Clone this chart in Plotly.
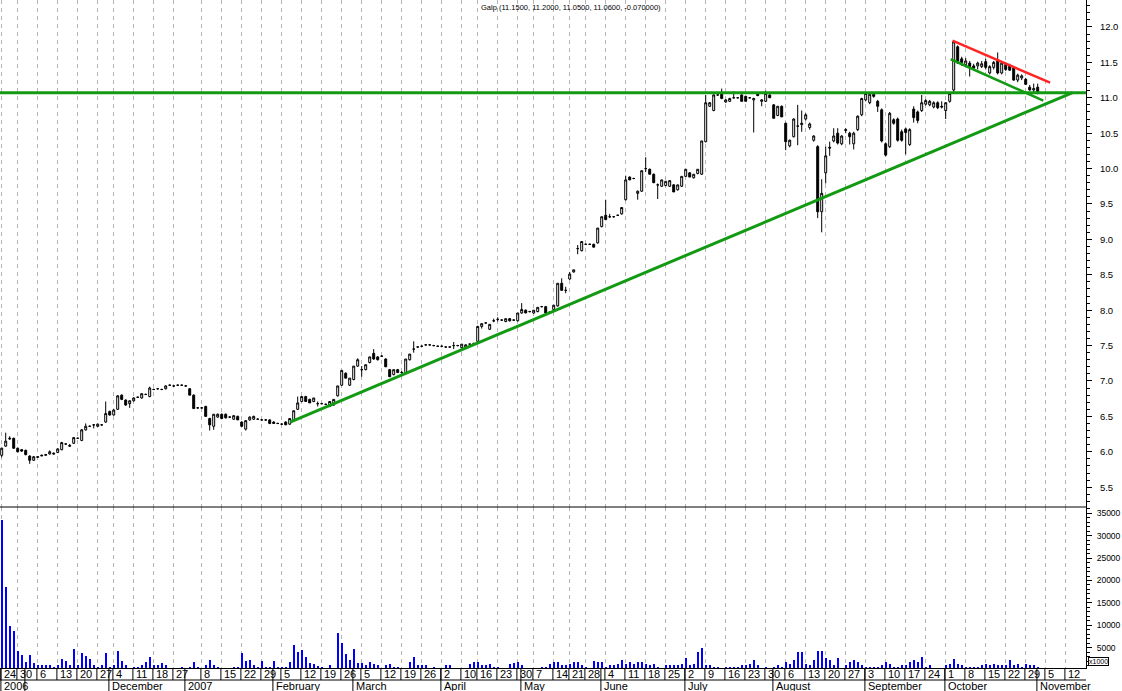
import plotly.graph_objects as go

# ---------------- data ----------------
title_text = "Galp (11.1500, 11.2000, 11.0500, 11.0600, -0.070000)"

open_ = [
    5.95, 6.08, 6.18, 6.19, 6.05, 6.03, 6.02, 5.94, 5.88, 5.92,
    5.94, 5.95, 5.97, 5.98, 5.99, 6.03, 6.11, 6.09, 6.12, 6.19,
    6.16, 6.31, 6.36, 6.38, 6.36, 6.38, 6.42, 6.57, 6.52, 6.60,
    6.80, 6.73, 6.68, 6.72, 6.77, 6.76, 6.81, 6.78, 6.88, 6.89,
    6.88, 6.89, 6.94, 6.93, 6.94, 6.94, 6.93, 6.89, 6.80, 6.62,
    6.62, 6.64, 6.47, 6.36, 6.49, 6.53, 6.53, 6.49, 6.46, 6.50,
    6.42, 6.32, 6.45, 6.46, 6.46, 6.45, 6.45, 6.45, 6.42, 6.40,
    6.39, 6.42, 6.39, 6.45, 6.60, 6.71, 6.78, 6.74, 6.71, 6.68,
    6.68, 6.67, 6.64, 6.66, 6.79, 6.94, 7.11, 6.94, 7.02, 7.21,
    7.16, 7.16, 7.26, 7.39, 7.34, 7.35, 7.31, 7.16, 7.09, 7.16,
    7.12, 7.12, 7.30, 7.45, 7.48, 7.49, 7.51, 7.51, 7.50, 7.49,
    7.49, 7.48, 7.48, 7.50, 7.50, 7.47, 7.48, 7.52, 7.53, 7.56,
    7.77, 7.82, 7.73, 7.85, 7.87, 7.86, 7.84, 7.88, 7.86, 7.85,
    7.96, 8.00, 7.98, 7.96, 7.98, 8.05, 8.05, 7.97, 8.01, 8.06,
    8.38, 8.28, 8.44, 8.54, 8.87, 8.84, 8.93, 8.93, 8.93, 8.95,
    9.18, 9.34, 9.32, 9.32, 9.34, 9.36, 9.56, 9.88, 9.86, 9.65,
    9.68, 10.00, 9.99, 9.92, 9.77, 9.75, 9.76, 9.75, 9.77, 9.70,
    9.75, 9.89, 9.94, 9.87, 9.93, 9.92, 10.38, 10.88, 10.82, 11.04,
    11.06, 10.94, 10.95, 11.00, 11.00, 11.04, 11.02, 11.00, 10.97, 11.06,
    10.95, 10.95, 11.04, 10.90, 10.75, 10.88, 10.64, 10.32, 10.45, 10.60,
    10.62, 10.70, 10.58, 10.40, 10.31, 9.39, 9.94, 10.30, 10.39, 10.50,
    10.35, 10.55, 10.50, 10.35, 10.55, 10.76, 10.97, 10.93, 11.05, 10.95,
    10.83, 10.35, 10.31, 10.69, 10.70, 10.52, 10.56, 10.34, 10.84, 10.80,
    10.82, 10.91, 10.90, 10.87, 10.93, 10.88, 10.82, 10.95, 11.11, 11.72,
    11.55, 11.47, 11.49, 11.45, 11.45, 11.44, 11.51, 11.35, 11.43, 11.53,
    11.35, 11.47, 11.46, 11.42, 11.25, 11.28, 11.26, 11.15, 11.11, 11.15,
]
high = [
    6.06, 6.27, 6.22, 6.20, 6.06, 6.04, 6.03, 5.95, 5.94, 5.94,
    5.96, 5.97, 6.02, 5.99, 6.05, 6.14, 6.12, 6.11, 6.21, 6.20,
    6.32, 6.40, 6.37, 6.39, 6.40, 6.39, 6.71, 6.58, 6.60, 6.80,
    6.81, 6.74, 6.73, 6.77, 6.78, 6.83, 6.82, 6.92, 6.89, 6.90,
    6.89, 6.94, 6.95, 6.94, 6.95, 6.95, 6.94, 6.90, 6.81, 6.63,
    6.63, 6.65, 6.48, 6.53, 6.54, 6.54, 6.54, 6.50, 6.52, 6.51,
    6.43, 6.44, 6.50, 6.51, 6.47, 6.46, 6.46, 6.46, 6.43, 6.41,
    6.40, 6.43, 6.47, 6.58, 6.78, 6.78, 6.79, 6.75, 6.76, 6.71,
    6.69, 6.68, 6.71, 6.74, 6.93, 7.15, 7.12, 7.04, 7.21, 7.32,
    7.21, 7.23, 7.34, 7.45, 7.35, 7.36, 7.32, 7.17, 7.16, 7.17,
    7.14, 7.31, 7.38, 7.56, 7.49, 7.50, 7.52, 7.52, 7.51, 7.50,
    7.50, 7.49, 7.49, 7.55, 7.51, 7.52, 7.52, 7.53, 7.54, 7.78,
    7.81, 7.83, 7.80, 7.88, 7.90, 7.87, 7.88, 7.89, 7.87, 7.96,
    8.10, 8.01, 7.99, 8.00, 8.04, 8.06, 8.06, 7.98, 8.07, 8.38,
    8.45, 8.33, 8.54, 8.57, 8.92, 8.97, 8.94, 8.94, 8.94, 9.16,
    9.32, 9.56, 9.36, 9.33, 9.35, 9.45, 9.90, 9.89, 9.87, 9.69,
    9.97, 10.16, 10.00, 9.93, 9.79, 9.84, 9.82, 9.83, 9.78, 9.77,
    9.89, 9.99, 9.95, 9.92, 9.99, 10.39, 11.04, 10.94, 11.05, 11.05,
    11.13, 10.98, 11.00, 11.09, 11.01, 11.05, 11.03, 11.01, 11.00, 11.07,
    10.98, 11.10, 11.05, 10.91, 10.88, 10.89, 10.65, 10.41, 10.71, 10.90,
    10.82, 10.78, 10.65, 10.47, 10.33, 9.85, 10.31, 10.38, 10.57, 10.57,
    10.47, 10.57, 10.52, 10.52, 10.75, 11.00, 11.07, 11.06, 11.07, 10.97,
    10.85, 10.37, 10.80, 10.71, 10.72, 10.55, 10.58, 10.57, 10.88, 10.82,
    11.04, 10.98, 10.97, 10.95, 10.95, 10.95, 10.94, 11.07, 11.80, 11.74,
    11.58, 11.56, 11.52, 11.48, 11.51, 11.52, 11.55, 11.46, 11.52, 11.64,
    11.51, 11.50, 11.48, 11.44, 11.34, 11.33, 11.28, 11.18, 11.20, 11.20,
]
low = [
    5.92, 6.07, 6.17, 6.04, 5.99, 6.00, 5.95, 5.83, 5.87, 5.92,
    5.94, 5.95, 5.96, 5.96, 5.98, 6.02, 6.10, 6.07, 6.11, 6.18,
    6.15, 6.30, 6.35, 6.33, 6.35, 6.37, 6.41, 6.51, 6.51, 6.59,
    6.73, 6.65, 6.62, 6.71, 6.76, 6.75, 6.80, 6.77, 6.87, 6.88,
    6.87, 6.88, 6.93, 6.92, 6.93, 6.93, 6.92, 6.80, 6.61, 6.61,
    6.61, 6.50, 6.30, 6.31, 6.48, 6.47, 6.47, 6.48, 6.45, 6.45,
    6.35, 6.30, 6.44, 6.45, 6.45, 6.44, 6.44, 6.39, 6.40, 6.39,
    6.38, 6.38, 6.38, 6.44, 6.59, 6.70, 6.71, 6.69, 6.70, 6.64,
    6.67, 6.66, 6.63, 6.65, 6.78, 6.93, 7.04, 6.93, 7.01, 7.20,
    7.06, 7.15, 7.25, 7.30, 7.29, 7.34, 7.20, 7.06, 7.08, 7.11,
    7.10, 7.11, 7.29, 7.40, 7.47, 7.48, 7.50, 7.50, 7.49, 7.48,
    7.48, 7.47, 7.47, 7.45, 7.49, 7.46, 7.47, 7.51, 7.52, 7.55,
    7.74, 7.81, 7.72, 7.83, 7.84, 7.85, 7.83, 7.84, 7.85, 7.84,
    7.95, 7.96, 7.97, 7.95, 7.97, 8.04, 7.96, 7.96, 8.00, 8.05,
    8.28, 8.24, 8.43, 8.53, 8.79, 8.83, 8.92, 8.92, 8.89, 8.94,
    9.17, 9.27, 9.30, 9.31, 9.33, 9.35, 9.55, 9.84, 9.85, 9.56,
    9.67, 9.95, 9.92, 9.80, 9.57, 9.74, 9.75, 9.74, 9.67, 9.69,
    9.74, 9.88, 9.88, 9.86, 9.92, 9.91, 10.37, 10.87, 10.81, 11.03,
    10.98, 10.93, 10.94, 10.99, 10.99, 10.95, 10.95, 10.99, 10.51, 11.03,
    10.88, 10.94, 11.00, 10.71, 10.74, 10.73, 10.26, 10.30, 10.44, 10.33,
    10.52, 10.68, 10.55, 10.38, 9.30, 9.10, 9.79, 10.18, 10.37, 10.34,
    10.33, 10.50, 10.34, 10.27, 10.53, 10.74, 10.95, 10.91, 11.00, 10.80,
    10.37, 10.17, 10.29, 10.62, 10.38, 10.38, 10.20, 10.32, 10.65, 10.64,
    10.80, 10.89, 10.88, 10.85, 10.84, 10.85, 10.70, 10.93, 11.08, 11.48,
    11.45, 11.45, 11.30, 11.40, 11.40, 11.42, 11.40, 11.33, 11.40, 11.33,
    11.33, 11.38, 11.38, 11.24, 11.22, 11.25, 11.18, 11.10, 11.08, 11.05,
]
close = [
    6.05, 6.15, 6.19, 6.05, 6.00, 6.01, 5.96, 5.88, 5.93, 5.93,
    5.95, 5.96, 6.00, 5.97, 6.04, 6.13, 6.11, 6.08, 6.20, 6.19,
    6.31, 6.36, 6.36, 6.38, 6.39, 6.38, 6.54, 6.52, 6.59, 6.79,
    6.74, 6.66, 6.72, 6.76, 6.77, 6.82, 6.81, 6.90, 6.88, 6.89,
    6.88, 6.93, 6.94, 6.93, 6.94, 6.94, 6.93, 6.80, 6.61, 6.62,
    6.62, 6.50, 6.38, 6.53, 6.53, 6.47, 6.48, 6.49, 6.51, 6.45,
    6.36, 6.44, 6.49, 6.50, 6.46, 6.45, 6.45, 6.40, 6.40, 6.40,
    6.39, 6.38, 6.47, 6.58, 6.69, 6.78, 6.71, 6.69, 6.76, 6.68,
    6.68, 6.67, 6.71, 6.74, 6.93, 7.15, 7.04, 7.04, 7.21, 7.30,
    7.16, 7.23, 7.34, 7.31, 7.30, 7.35, 7.20, 7.06, 7.16, 7.12,
    7.12, 7.31, 7.38, 7.45, 7.48, 7.49, 7.51, 7.51, 7.50, 7.49,
    7.49, 7.48, 7.48, 7.50, 7.50, 7.52, 7.51, 7.52, 7.53, 7.77,
    7.81, 7.82, 7.80, 7.85, 7.87, 7.86, 7.88, 7.85, 7.86, 7.96,
    8.01, 7.96, 7.98, 8.00, 8.04, 8.05, 7.96, 7.97, 8.07, 8.38,
    8.28, 8.28, 8.51, 8.57, 8.87, 8.97, 8.93, 8.93, 8.89, 9.16,
    9.32, 9.28, 9.32, 9.32, 9.34, 9.45, 9.84, 9.84, 9.86, 9.68,
    9.97, 10.00, 9.92, 9.80, 9.77, 9.84, 9.82, 9.83, 9.67, 9.77,
    9.89, 9.99, 9.88, 9.92, 9.99, 10.39, 10.93, 10.93, 11.04, 11.04,
    10.99, 10.97, 10.99, 11.00, 11.00, 10.95, 10.95, 11.00, 10.99, 11.03,
    10.97, 11.06, 11.00, 10.71, 10.88, 10.73, 10.38, 10.40, 10.70, 10.60,
    10.64, 10.76, 10.63, 10.46, 9.39, 9.65, 10.18, 10.29, 10.46, 10.36,
    10.46, 10.54, 10.45, 10.50, 10.74, 10.99, 11.06, 11.05, 11.02, 10.88,
    10.39, 10.19, 10.78, 10.64, 10.40, 10.40, 10.51, 10.55, 10.72, 10.68,
    10.93, 10.96, 10.95, 10.93, 10.86, 10.87, 10.93, 11.06, 11.79, 11.49,
    11.50, 11.52, 11.44, 11.42, 11.49, 11.48, 11.43, 11.44, 11.50, 11.35,
    11.49, 11.40, 11.39, 11.25, 11.32, 11.31, 11.19, 11.11, 11.13, 11.06,
]
volume_k = [
    33400, 18450, 9780, 8650, 4170, 3270, 1700, 3270, 1480, 1030,
    1030, 1030, 1250, 800, 1250, 2370, 1930, 1250, 4620, 1030,
    3720, 3050, 2370, 1250, 800, 1030, 3720, 800, 1030, 4170,
    1930, 1030, 100, 800, 800, 1030, 1700, 2830, 1030, 1250,
    1480, 1030, 100, 400, 100, 800, 100, 800, 1700, 800,
    100, 1250, 2150, 1250, 600, 100, 100, 100, 800, 800,
    3720, 1930, 2150, 1250, 800, 1930, 600, 800, 1930, 800,
    600, 800, 1700, 5500, 3940, 4500, 3000, 1630, 1300, 900,
    660, 100, 1100, 100, 8200, 6000, 3650, 2330, 4800, 1500,
    1500, 1200, 1900, 1300, 1100, 100, 1100, 1300, 600, 600,
    100, 400, 1800, 2950, 1100, 1100, 1100, 100, 600, 400,
    100, 1100, 1100, 100, 100, 100, 100, 1300, 1700, 1700,
    1100, 1100, 1300, 600, 600, 400, 400, 1300, 1500, 1800,
    1100, 400, 400, 100, 400, 600, 600, 1300, 1700, 1800,
    1100, 1100, 1300, 1700, 1800, 1100, 600, 100, 2100, 1700,
    1700, 600, 1100, 1100, 1300, 2300, 1300, 1700, 1300, 1700,
    1700, 1300, 1100, 1300, 600, 400, 1100, 1100, 1100, 1100,
    1300, 2800, 1100, 1300, 4100, 5000, 1100, 1100, 600, 600,
    100, 600, 600, 600, 600, 1100, 1100, 1300, 2300, 1100,
    100, 600, 100, 600, 1100, 600, 1700, 1300, 2300, 4000,
    4000, 1300, 1100, 2200, 4200, 4200, 2600, 2300, 1100, 2600,
    100, 1100, 1700, 2200, 1700, 1100, 600, 600, 600, 600,
    1100, 1700, 1300, 600, 600, 1100, 1100, 1700, 2200, 1700,
    2950, 600, 1100, 100, 100, 100, 1100, 1300, 2400, 1300,
    1100, 600, 600, 600, 600, 1100, 1300, 1100, 1300, 1100,
    1100, 1100, 2200, 1100, 1300, 600, 1300, 1100, 1100, 600,
]

# trading-day index of each weekly tick and its label
week_ticks = [0, 4, 9, 14, 19, 24, 28, 33, 38, 43, 50, 55, 60, 65, 70, 75, 80, 85,
              90, 95, 100, 105, 110, 115, 119, 124, 129, 133, 138, 142, 146, 151,
              156, 161, 166, 171, 176, 181, 186, 191, 196, 201, 206, 211, 216, 221,
              226, 231, 236, 241, 246, 251, 256, 261, 266]
week_labels = ["24", "30", "6", "13", "20", "27", "4", "11", "18", "27", "8", "15",
               "22", "29", "5", "12", "19", "26", "5", "12", "19", "26", "2", "10",
               "16", "23", "30", "7", "14", "21", "28", "4", "11", "18", "25", "2",
               "9", "16", "23", "30", "6", "13", "20", "27", "3", "10", "17", "24",
               "1", "8", "15", "22", "29", "5", "12"]
month_ticks = [0, 6, 27, 46, 68, 88, 110, 130, 150, 171, 193, 216, 236, 259]
month_labels = ["2006", "", "December", "2007", "February", "March", "April", "May",
                "June", "July", "August", "September", "October", "November"]

price_ticks = [5.5, 6.0, 6.5, 7.0, 7.5, 8.0, 8.5, 9.0, 9.5, 10.0, 10.5, 11.0, 11.5, 12.0]
volume_ticks = [5000, 10000, 15000, 20000, 25000, 30000, 35000]

# hand-drawn trendlines (trading-day index, price)
support_x, support_y = [72.1, 267.6], [6.42, 11.07]
resistance_level = 11.07
flag_low_x, flag_low_y = [237.25, 260.4], [11.544, 10.959]
flag_high_x, flag_high_y = [237.7, 262.1], [11.806, 11.213]

# ---------------- layout geometry ----------------
W, H = 1122, 691
ML, MR, MT, MB = 0, 36, 0, 23
PW, PH = W - ML - MR, H - MT - MB          # 1086 x 668
SEP = 507                                   # px, price / volume split
split = (PH - SEP) / PH
X0, PXD = 1.7, 4.0                          # px of first candle, px per day
xrange_ = [-X0 / PXD, (PW - X0) / PXD]
PRICE_RANGE = [5.22, 12.381]
VOL_RANGE = [470, 36400]

GREEN = "#139a13"
RED = "#ff2424"
FONT = "Liberation Sans"

def py(ypx):
    return (PH - ypx) / PH

days = list(range(len(close)))

fig = go.Figure()

fig.add_trace(go.Candlestick(
    x=days, open=open_, high=high, low=low, close=close,
    increasing=dict(line=dict(color="black", width=1), fillcolor="white"),
    decreasing=dict(line=dict(color="black", width=1), fillcolor="black"),
    whiskerwidth=0, xaxis="x", yaxis="y", hoverinfo="skip", showlegend=False,
))

fig.add_trace(go.Bar(
    x=days, y=volume_k, width=0.28, marker=dict(color="#0000ff", line=dict(width=0)),
    xaxis="x2", yaxis="y2", showlegend=False, hoverinfo="skip",
))

# trendlines
fig.add_trace(go.Scatter(x=[xrange_[0], xrange_[1] + 0.5], y=[resistance_level] * 2,
                         mode="lines", line=dict(color=GREEN, width=3),
                         xaxis="x", yaxis="y", showlegend=False, hoverinfo="skip", cliponaxis=False))
fig.add_trace(go.Scatter(x=support_x, y=support_y, mode="lines",
                         line=dict(color=GREEN, width=3),
                         xaxis="x", yaxis="y", showlegend=False, hoverinfo="skip"))
fig.add_trace(go.Scatter(x=flag_low_x, y=flag_low_y, mode="lines",
                         line=dict(color=GREEN, width=2.5),
                         xaxis="x", yaxis="y", showlegend=False, hoverinfo="skip"))
fig.add_trace(go.Scatter(x=flag_high_x, y=flag_high_y, mode="lines",
                         line=dict(color=RED, width=2.5),
                         xaxis="x", yaxis="y", showlegend=False, hoverinfo="skip"))

grid = dict(showgrid=True, gridcolor="#b4b4b4", griddash="4px,4px", gridwidth=1)

fig.update_layout(
    width=W, height=H,
    margin=dict(l=ML, r=MR, t=MT, b=MB, autoexpand=False),
    paper_bgcolor="white", plot_bgcolor="white",
    font=dict(family=FONT, size=10, color="black"),
    showlegend=False, bargap=0,
    xaxis=dict(domain=[0, 1], range=xrange_, anchor="y", tickmode="array",
               tickvals=week_ticks, showticklabels=False, ticks="", zeroline=False,
               rangeslider=dict(visible=False), fixedrange=True, **grid),
    xaxis2=dict(domain=[0, 1], range=xrange_, anchor="y2", matches="x", tickmode="array",
                tickvals=week_ticks, showticklabels=False, ticks="", zeroline=False,
                showline=True, linecolor="black", linewidth=1, **grid),
    yaxis=dict(domain=[split, 1], range=PRICE_RANGE, side="right", anchor="x",
               tickmode="array", tickvals=price_ticks,
               ticktext=[f"{v:.1f}" for v in price_ticks],
               ticks="outside", ticklen=5, tickcolor="black", tickwidth=1,
               minor=dict(ticks="outside", ticklen=3, dtick=0.1, tick0=0,
                          tickcolor="black", showgrid=False),
               showline=True, linecolor="black", linewidth=1, showgrid=False,
               zeroline=False, ticklabelstandoff=6,
               tickfont=dict(family=FONT, size=9.5)),
    yaxis2=dict(domain=[0, split], range=VOL_RANGE, side="right", anchor="x2",
                tickmode="array", tickvals=volume_ticks,
                ticktext=[str(v) for v in volume_ticks],
                ticks="outside", ticklen=5, tickcolor="black", tickwidth=1,
                minor=dict(ticks="outside", ticklen=3, dtick=1000, tick0=0,
                           tickcolor="black", showgrid=False),
                showline=True, linecolor="black", linewidth=1, showgrid=False,
                zeroline=False, ticklabelstandoff=3,
                tickfont=dict(family=FONT, size=8.5)),
)

shapes = []
# panel separator
shapes.append(dict(type="line", xref="paper", yref="paper", x0=0, x1=1,
                   y0=split, y1=split, line=dict(color="black", width=1)))
# date rows
shapes.append(dict(type="line", xref="paper", yref="paper", x0=0, x1=1,
                   y0=py(680), y1=py(680), line=dict(color="black", width=1)))
annotations = []
for t, lab in zip(week_ticks, week_labels):
    shapes.append(dict(type="line", xref="x", yref="paper", x0=t - 0.2, x1=t - 0.2,
                       y0=py(668), y1=py(680), line=dict(color="black", width=1)))
    annotations.append(dict(x=t - 0.2, y=py(674.5), xref="x", yref="paper", text=lab,
                            showarrow=False, xanchor="left", yanchor="middle", xshift=1,
                            font=dict(family=FONT, size=11, color="black")))
for t, lab in zip(month_ticks, month_labels):
    shapes.append(dict(type="line", xref="x", yref="paper", x0=t - 0.2, x1=t - 0.2,
                       y0=py(668), y1=py(691), line=dict(color="black", width=1)))
    if lab:
        annotations.append(dict(x=t - 0.2, y=py(686), xref="x", yref="paper", text=lab,
                                showarrow=False, xanchor="left", yanchor="middle", xshift=1,
                                font=dict(family=FONT, size=11, color="black")))

# title
annotations.append(dict(x=571 / PW, y=py(8), xref="paper", yref="paper", text=title_text,
                        showarrow=False, xanchor="center", yanchor="middle",
                        font=dict(family=FONT, size=7.5, color="black")))
# volume multiplier box
annotations.append(dict(x=(PW + 2) / PW, y=py(661), xref="paper", yref="paper", text="x1000",
                        showarrow=False, xanchor="left", yanchor="middle",
                        font=dict(family=FONT, size=7, color="black"),
                        bordercolor="black", borderwidth=1, borderpad=0, bgcolor="white"))

fig.update_layout(shapes=shapes, annotations=annotations)

fig.write_html("out.html", config={"displayModeBar": False},
               post_script="document.body.style.margin='0px';document.body.style.overflow='hidden';")
